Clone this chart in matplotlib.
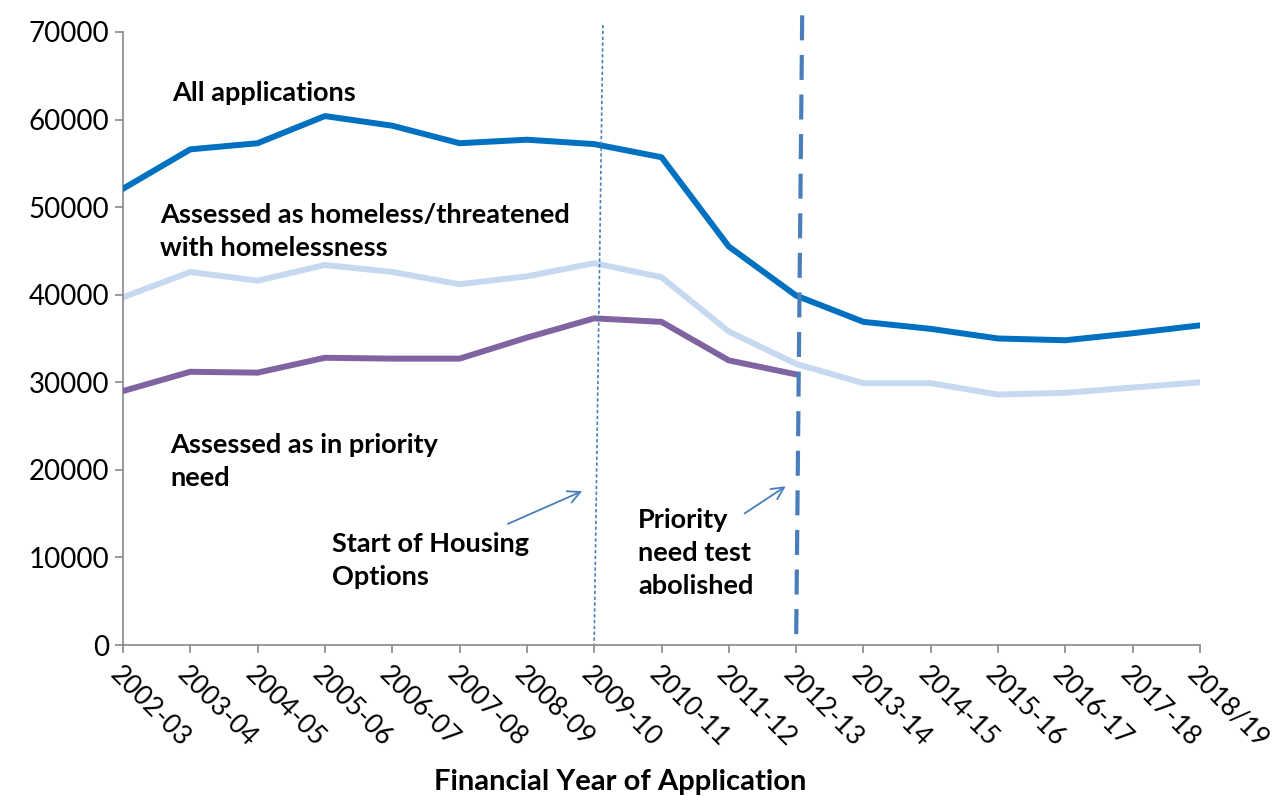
import matplotlib.pyplot as plt

# Dados
anos = ['2002-03', '2003-04', '2004-05', '2005-06', '2006-07', '2007-08', '2008-09',
        '2009-10', '2010-11', '2011-12', '2012-13', '2013-14', '2014-15', '2015-16',
        '2016-17', '2017-18', '2018/19']
todas = [52100, 56600, 57300, 60400, 59300, 57300, 57700, 57200, 55700, 45500,
         39900, 36900, 36100, 35000, 34800, 35600, 36500]
sem_teto = [39700, 42600, 41600, 43400, 42600, 41200, 42100, 43600, 42000, 35800,
            32100, 29900, 29900, 28600, 28800, 29400, 30000]
prioridade = [29000, 31200, 31100, 32800, 32700, 32700, 35100, 37300, 36900, 32500,
              30900]
yticks = [0, 10000, 20000, 30000, 40000, 50000, 60000, 70000]


def main():
    plt.rcParams['font.family'] = ['Lato', 'DejaVu Sans']
    fig = plt.figure(figsize=(12.8, 7.96), dpi=100)
    ax = fig.add_axes([123 / 1280, 1 - 645 / 796, (1200 - 123) / 1280, (645 - 32) / 796])

    x = list(range(len(anos)))
    ax.plot(x, sem_teto, color='#C6D9F1', lw=4.3, zorder=2)
    ax.plot(x[:len(prioridade)], prioridade, color='#8064A2', lw=4.3, zorder=3)
    ax.plot(x, todas, color='#0070C0', lw=4.3, zorder=4)

    # Linhas verticais (inicio do Housing Options e fim do teste de prioridade)
    ax.plot([7.13, 7.0], [70800, 150], color='#4A7EBB', lw=1.2, ls=(0, (2, 1.5)),
            clip_on=False, zorder=5)
    ax.plot([10.09, 10.0], [71900, 50], color='#4A7EBB', lw=3, ls=(0, (6, 3.5)),
            clip_on=False, zorder=5)

    ax.annotate('', xy=(6.86, 17700), xytext=(5.68, 13700),
                arrowprops=dict(arrowstyle='->', color='#4A7EBB', lw=1.3,
                                mutation_scale=22))
    ax.annotate('', xy=(9.88, 18300), xytext=(9.2, 14850),
                arrowprops=dict(arrowstyle='->', color='#4A7EBB', lw=1.3,
                                mutation_scale=22))

    fs = 19.5
    ls = 1.45
    ax.text(0.73, 63000, 'All applications', fontsize=fs, fontweight='bold', va='center')
    ax.text(0.55, 47200, 'Assessed as homeless/threatened\nwith homelessness',
            fontsize=fs, fontweight='bold', va='center', linespacing=ls)
    ax.text(0.7, 20950, 'Assessed as in priority\nneed', fontsize=fs,
            fontweight='bold', va='center', linespacing=ls)
    ax.text(3.1, 9700, 'Start of Housing\nOptions', fontsize=fs, fontweight='bold',
            va='center', linespacing=ls)
    ax.text(7.65, 10500, 'Priority\nneed test\nabolished', fontsize=fs,
            fontweight='bold', va='center', linespacing=ls)

    ax.set_xlim(0, len(anos) - 1)
    ax.set_ylim(0, 70000)
    ax.set_yticks(yticks)
    ax.set_yticklabels([str(v) for v in yticks], fontsize=20)
    ax.set_xticks(x)
    ax.set_xticklabels(anos, fontsize=19, rotation=-45, ha='left', va='top',
                       rotation_mode='anchor')
    ax.tick_params(axis='both', color='#888888', length=6, width=1.2)
    ax.tick_params(axis='x', pad=6)
    ax.tick_params(axis='y', pad=4)
    for lado in ['top', 'right']:
        ax.spines[lado].set_visible(False)
    for lado in ['left', 'bottom']:
        ax.spines[lado].set_color('#888888')
        ax.spines[lado].set_linewidth(1.2)

    fig.text(620 / 1280, 1 - 782 / 796, 'Financial Year of Application', fontsize=21,
             fontweight='bold', ha='center', va='center')

    fig.savefig('out.png', dpi=100)


if __name__ == '__main__':
    main()
